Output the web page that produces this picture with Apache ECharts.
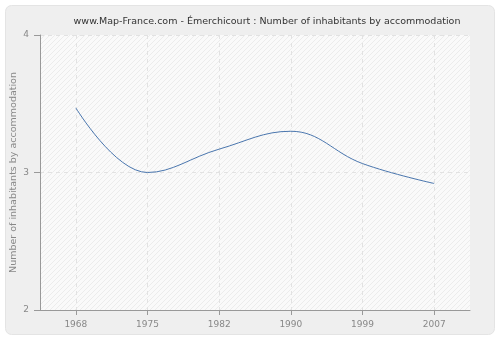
<!DOCTYPE html>
<html><head><meta charset="utf-8">
<script src="https://cdn.jsdelivr.net/npm/echarts@6/dist/echarts.min.js"></script>
<style>html,body{margin:0;padding:0;background:#fff;}#c{width:500px;height:340px;}</style>
</head><body><div id="c"></div>
<script>
var years = ['1968','1975','1982','1990','1999','2007'];
var values = [3.47, 3.0, 3.17, 3.3, 3.065, 2.92];
var yTicks = [2, 3, 4];
// half-step grid categories so vertical grid lines sit on the year centres
var halfSteps = ['', '1968', '', '1975', '', '1982', '', '1990', '', '1999', '', '2007', ''];

var pc = document.createElement('canvas');
pc.width = 5; pc.height = 5;
var g = pc.getContext('2d');
g.fillStyle = '#fafafa'; g.fillRect(0,0,5,5);
g.strokeStyle = '#ececec'; g.lineWidth = 1;
g.beginPath(); g.moveTo(0,5); g.lineTo(5,0); g.moveTo(-1,1); g.lineTo(1,-1); g.moveTo(4,6); g.lineTo(6,4); g.stroke();

var oddOnly = function(i){ return i % 2 === 1; };

var chart = echarts.init(document.getElementById('c'), null, {renderer:'canvas'});
chart.setOption({
  animation:false,
  backgroundColor:'#fff',
  graphic:[{type:'rect', z:-10, shape:{x:5.5,y:5.5,width:489,height:329,r:6}, style:{fill:'#efefef', stroke:'#e4e4e4', lineWidth:1}}],
  title:{text:'www.Map-France.com - Émerchicourt : Number of inhabitants by accommodation', left:262, top:12, textAlign:'center',
    textStyle:{fontFamily:'DejaVu Sans', fontSize:9.5, fontWeight:'normal', color:'#333'}},
  grid:{left:40, right:30, top:35, bottom:30, containLabel:false, outerBoundsMode:'none',
    show:true, backgroundColor:{image:pc, repeat:'repeat'}, borderWidth:0},
  xAxis:[
    {type:'category', data:years, boundaryGap:true, show:false},
    {type:'category', data:halfSteps, boundaryGap:false, position:'bottom',
      axisLine:{lineStyle:{color:'#999'}},
      axisTick:{interval:oddOnly, length:5, lineStyle:{color:'#999'}},
      axisLabel:{interval:oddOnly, color:'#888', fontFamily:'DejaVu Sans', fontSize:9, margin:10},
      splitLine:{show:true, interval:oddOnly, lineStyle:{color:'#e2e2e2', type:[4,4]}}}
  ],
  yAxis:{type:'value', min:2, max:4, interval:1,
    name:'Number of inhabitants by accommodation', nameLocation:'middle', nameGap:21, nameMoveOverlap:false,
    nameTextStyle:{color:'#888', fontFamily:'DejaVu Sans', fontSize:9.5},
    axisLine:{show:true, lineStyle:{color:'#999'}},
    axisTick:{show:true, length:6, lineStyle:{color:'#999'}},
    axisLabel:{color:'#888', fontFamily:'DejaVu Sans', fontSize:9, margin:11,
      formatter:function(v){return yTicks.indexOf(v)>=0?String(v):'';}},
    splitLine:{show:true, lineStyle:{color:'#e2e2e2', type:[4,4]}}},
  series:[{type:'line', xAxisIndex:0, data:values, smooth:0.4, symbol:'none',
    lineStyle:{color:'#4a76ae', width:1}}]
});
</script></body></html>
